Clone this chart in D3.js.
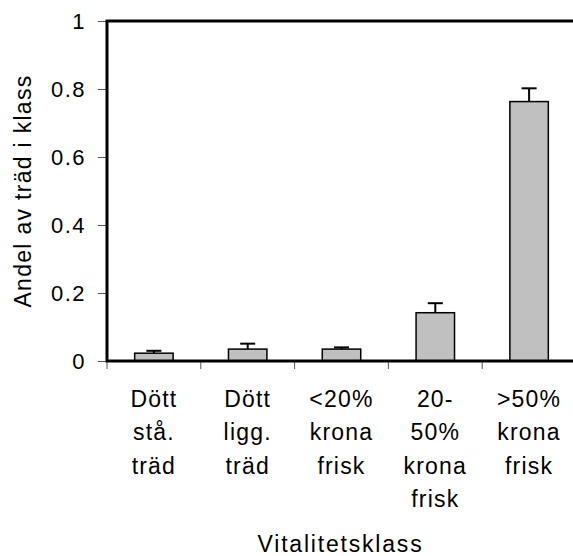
<!DOCTYPE html>
<html>
<head>
<meta charset="utf-8">
<script src="https://cdn.jsdelivr.net/npm/d3@7.9.0/dist/d3.min.js"></script>
<style>
  html, body { margin: 0; padding: 0; background: #fff; }
  svg { display: block; font-family: "Liberation Sans", Arial, sans-serif; }
  .ytick text { font-size: 22px; letter-spacing: 1.5px; }
</style>
</head>
<body>
<svg id="chart" width="573" height="556"></svg>
<script>
const categories = ['Dött stå. träd', 'Dött ligg. träd', '<20% krona frisk', '20-50% krona frisk', '>50% krona frisk'];
const categoryLines = [
  ['Dött', 'stå.', 'träd'],
  ['Dött', 'ligg.', 'träd'],
  ['<20%', 'krona', 'frisk'],
  ['20-', '50%', 'krona', 'frisk'],
  ['>50%', 'krona', 'frisk']
];
const values = [0.023, 0.035, 0.035, 0.142, 0.763];
const errors = [0.007, 0.016, 0.005, 0.028, 0.039];
const yTicks = [0, 0.2, 0.4, 0.6, 0.8, 1];

const svg = d3.select('#chart');
const plotLeft = 107, plotRight = 576, plotTop = 21, plotBottom = 361;

const x = d3.scaleBand().domain(categories).range([plotLeft, plotRight]).paddingInner(0.59).paddingOuter(0.295);
const xEdges = d3.scaleBand().domain(categories).range([plotLeft, plotRight]);
const y = d3.scaleLinear().domain([0, 1]).range([plotBottom, plotTop]);

// y axis ticks + labels
const yAxis = svg.append('g')
  .attr('class', 'ytick')
  .attr('transform', `translate(${plotLeft},0)`)
  .call(d3.axisLeft(y).tickValues(yTicks).tickSize(9).tickPadding(12).tickFormat(d => String(d)));
yAxis.attr('font-family', null).attr('font-size', null);
yAxis.select('.domain').remove();
yAxis.selectAll('.tick line').attr('stroke', '#555').attr('stroke-width', 1);
yAxis.selectAll('.tick text')
  .attr('fill', '#000')
  .attr('dy', '0.36em');

// x ticks at band boundaries
const xTickPos = categories.map(c => xEdges(c)).concat([plotRight]);
svg.append('g').selectAll('line').data(xTickPos).join('line')
  .attr('x1', d => d).attr('x2', d => d)
  .attr('y1', plotBottom).attr('y2', plotBottom + 8)
  .attr('stroke', '#555').attr('stroke-width', 1);

// bars
svg.append('g').selectAll('rect').data(values).join('rect')
  .attr('x', (d, i) => x(categories[i]))
  .attr('y', d => y(d))
  .attr('width', x.bandwidth())
  .attr('height', d => y(0) - y(d))
  .attr('fill', '#c0c0c0')
  .attr('stroke', '#000')
  .attr('stroke-width', 1.5);

// error bars (upper only)
const eb = svg.append('g').attr('stroke', '#000').attr('stroke-width', 2);
values.forEach((v, i) => {
  const cx = x(categories[i]) + x.bandwidth() / 2;
  eb.append('line').attr('x1', cx).attr('x2', cx).attr('y1', y(v)).attr('y2', y(v + errors[i]));
  eb.append('line').attr('x1', cx - 7.5).attr('x2', cx + 7.5).attr('y1', y(v + errors[i])).attr('y2', y(v + errors[i]));
});

// frame
svg.append('rect')
  .attr('x', plotLeft).attr('y', plotTop)
  .attr('width', plotRight - plotLeft).attr('height', plotBottom - plotTop)
  .attr('fill', 'none').attr('stroke', '#000').attr('stroke-width', 3);

// category labels
const xl = svg.append('g').selectAll('text').data(categoryLines).join('text')
  .attr('text-anchor', 'middle')
  .style('font-size', '23px')
  .style('letter-spacing', '1.2px')
  .attr('fill', '#000');
xl.each(function (lines, i) {
  const cx = xEdges(categories[i]) + xEdges.bandwidth() / 2;
  d3.select(this).selectAll('tspan').data(lines).join('tspan')
    .attr('x', cx).attr('y', (d, j) => 407 + j * 33.3)
    .text(d => d);
});

// axis titles
svg.append('text')
  .attr('x', (plotLeft + plotRight) / 2 - 1).attr('y', 552)
  .attr('text-anchor', 'middle')
  .style('font-size', '23px')
  .style('letter-spacing', '1.8px')
  .text('Vitalitetsklass');

svg.append('text')
  .attr('transform', 'translate(31,191) rotate(-90)')
  .attr('text-anchor', 'middle')
  .style('font-size', '23px')
  .style('letter-spacing', '1.3px')
  .text('Andel av träd i klass');
</script>
</body>
</html>
